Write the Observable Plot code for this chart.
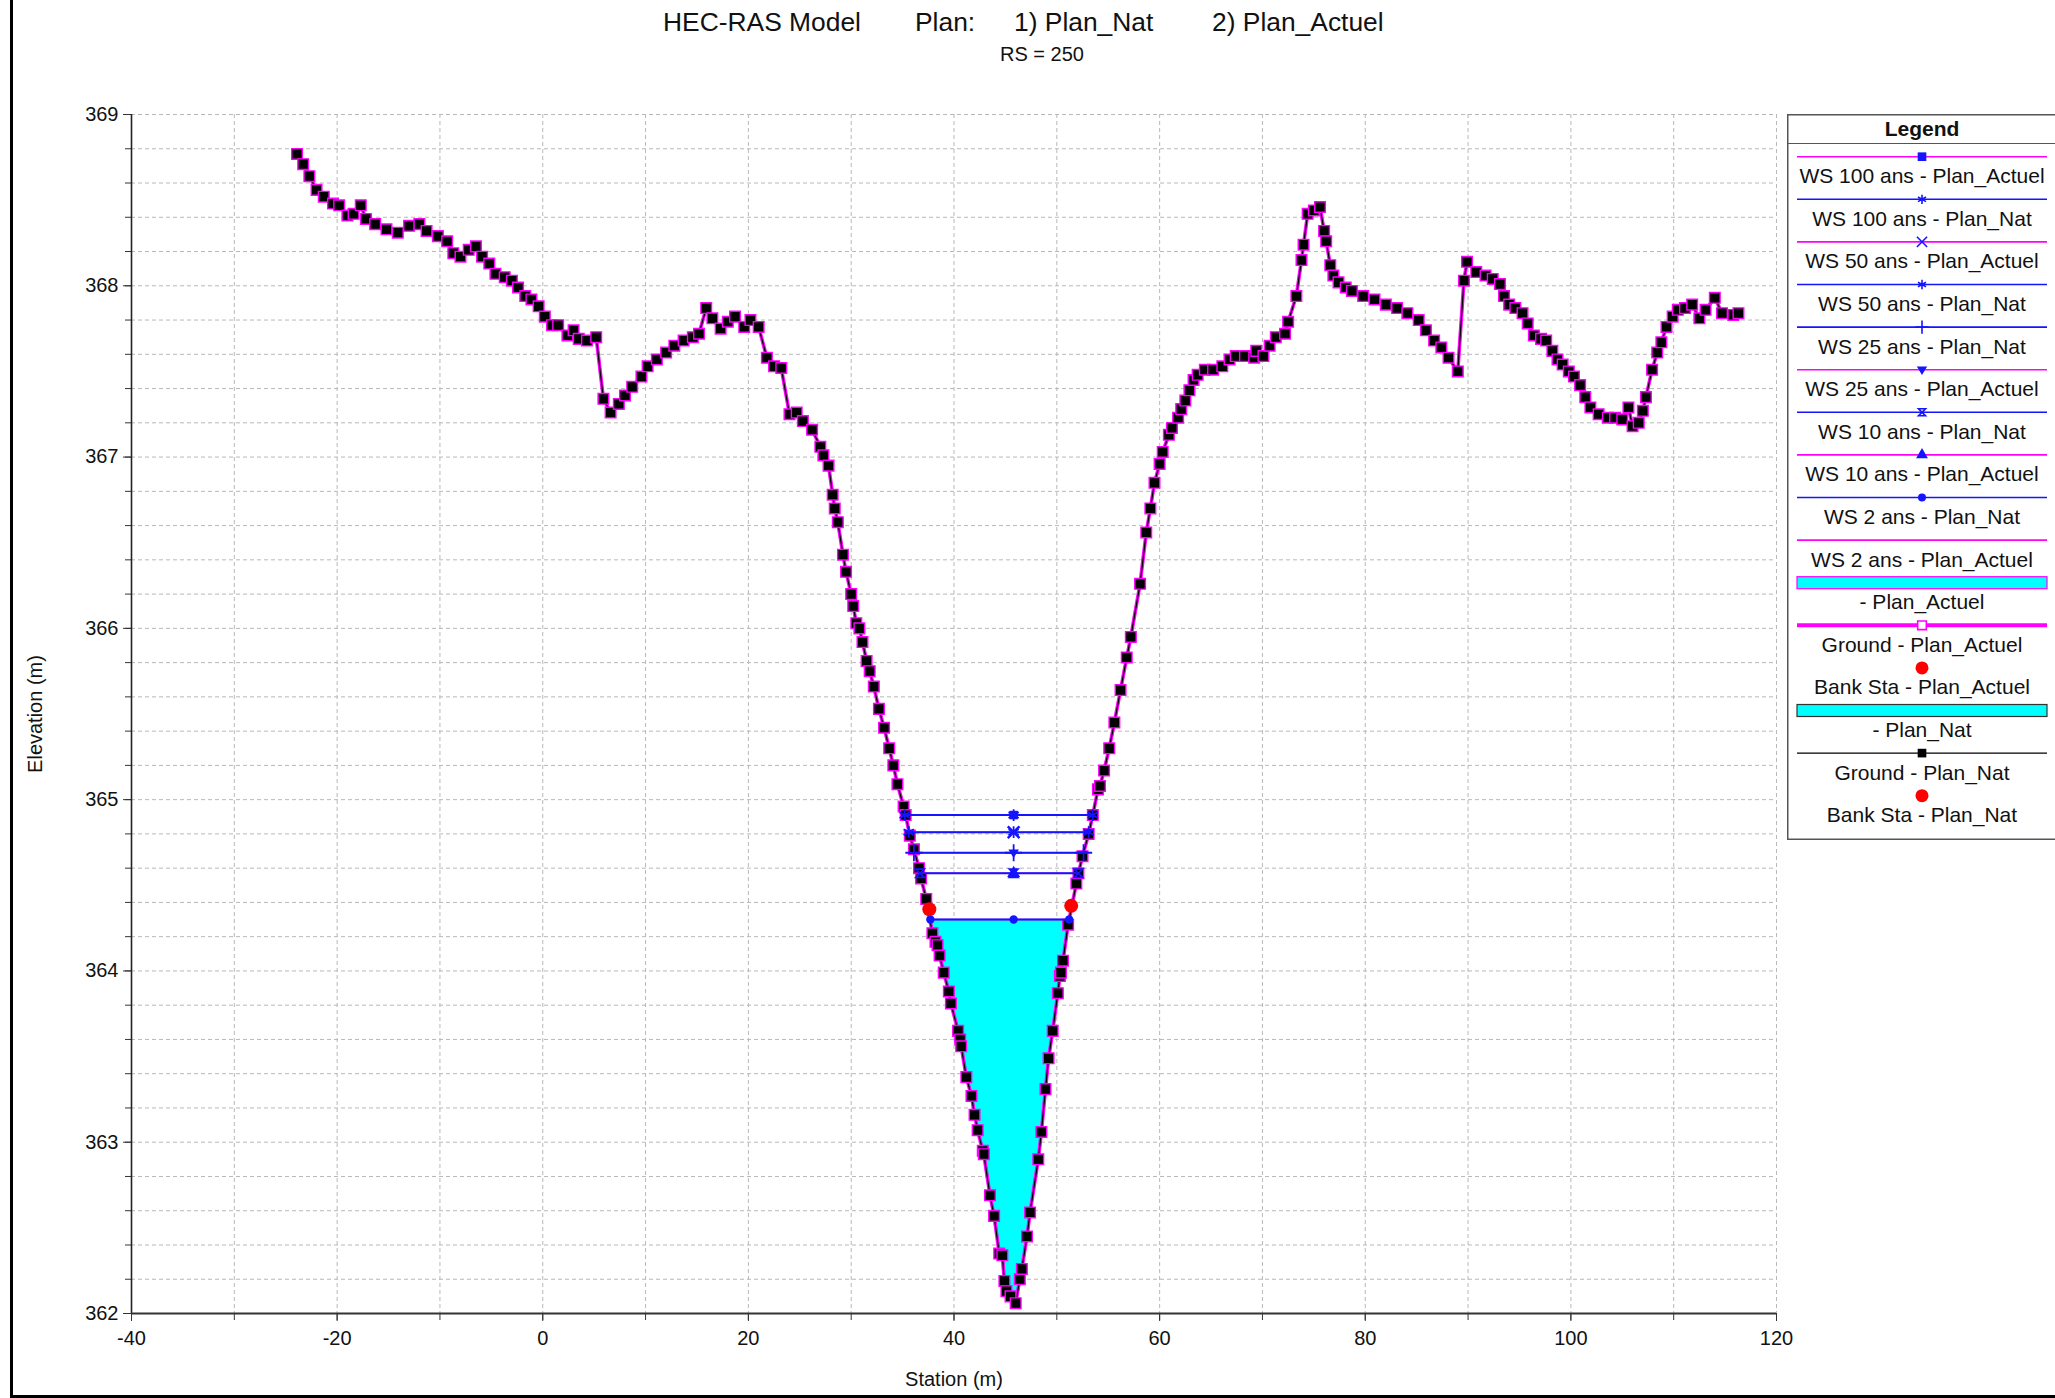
<!DOCTYPE html>
<html>
<head>
<meta charset="utf-8">
<script src="https://cdn.jsdelivr.net/npm/d3@7"></script>
<script src="https://cdn.jsdelivr.net/npm/@observablehq/plot@0.6"></script>
<style>
  html, body { margin: 0; padding: 0; background: #fff; }
  #page { position: relative; width: 2055px; height: 1398px; overflow: hidden;
          font-family: "Liberation Sans", Arial, sans-serif; color: #111; }
  #titles { position: relative; height: 70px; }
  .t { position: absolute; top: 0; height: 44px; line-height: 44px; font-size: 26.4px; white-space: nowrap; }
  #subtitle { position: absolute; left: 942px; width: 200px; top: 44px; line-height: 20px;
              font-size: 20px; text-align: center; }
  #chart { position: relative; }
  #legend { position: absolute; left: 1787px; top: 114px; }
  #frame { position: absolute; left: 10px; top: -10px; width: 2100px; height: 1408px;
           box-sizing: border-box; border-left: 3px solid #000; border-bottom: 3px solid #000;
           pointer-events: none; }
</style>
</head>
<body>
<div id="page">
  <div id="titles">
    <span class="t" style="left:663px">HEC-RAS Model</span>
    <span class="t" style="left:915px">Plan:</span>
    <span class="t" style="left:1014px">1) Plan_Nat</span>
    <span class="t" style="left:1212px">2) Plan_Actuel</span>
    <div id="subtitle">RS = 250</div>
  </div>
  <div id="chart"></div>
  <div id="legend"></div>
  <div id="frame"></div>
</div>
<script>
// ---------------- data ----------------
const stations = [
  -23.9, -23.3, -22.7, -22.0, -21.3, -20.4, -19.8, -19.0, -18.4, -17.7,
  -17.2, -16.3, -15.2, -14.1, -13.0, -12.0, -11.3, -10.2, -9.3, -8.7,
  -8.0, -7.2, -6.5, -5.9, -5.2, -4.6, -3.7, -3.0, -2.4, -1.7,
  -1.1, -0.4, 0.2, 0.9, 1.5, 2.4, 3.0, 3.5, 4.3, 5.2,
  5.9, 6.6, 7.4, 8.0, 8.7, 9.6, 10.2, 11.1, 12.0, 12.8,
  13.7, 14.6, 15.2, 15.9, 16.5, 17.3, 18.0, 18.7, 19.6, 20.2,
  21.0, 21.8, 22.5, 23.2, 24.0, 24.7, 25.3, 26.2, 27.0, 27.3,
  27.8, 28.2, 28.4, 28.7, 29.2, 29.5, 30.0, 30.2, 30.5, 30.8,
  31.1, 31.5, 31.8, 32.2, 32.7, 33.2, 33.7, 34.1, 34.5, 35.1,
  35.3, 35.7, 36.1, 36.6, 36.8, 37.3, 37.9, 38.2, 38.4, 38.6,
  39.0, 39.5, 39.7, 40.4, 40.6, 40.7, 41.2, 41.7, 42.0, 42.3,
  42.8, 42.9, 43.5, 43.9, 44.4, 44.7, 44.9, 45.1, 45.5, 46.0,
  46.4, 46.6, 47.1, 47.4, 48.2, 48.5, 48.9, 49.2, 49.6, 50.1,
  50.3, 50.4, 50.6, 51.1, 51.9, 52.1, 52.5, 53.1, 53.5, 54.0,
  54.2, 54.6, 55.1, 55.6, 56.2, 56.8, 57.2, 58.1, 58.7, 59.1,
  59.5, 60.0, 60.3, 60.9, 61.2, 61.8, 62.1, 62.5, 62.9, 63.3,
  63.7, 64.4, 65.2, 66.1, 66.8, 67.4, 68.3, 69.2, 69.4, 70.1,
  70.7, 71.3, 72.2, 72.5, 73.3, 73.8, 74.0, 74.4, 75.0, 75.6,
  76.0, 76.2, 76.6, 76.9, 77.4, 78.1, 78.7, 79.8, 80.9, 82.0,
  83.1, 84.1, 85.2, 85.9, 86.7, 87.4, 88.1, 89.0, 89.6, 89.9,
  90.8, 91.7, 92.4, 93.1, 93.5, 94.0, 94.6, 95.3, 95.8, 96.4,
  97.1, 97.6, 98.2, 98.7, 99.2, 99.8, 100.3, 100.9, 101.4, 101.9,
  102.7, 103.6, 104.3, 105.0, 105.6, 106.0, 106.6, 107.0, 107.3, 107.9,
  108.4, 108.8, 109.3, 109.9, 110.4, 111.1, 111.8, 112.5, 113.1, 114.0,
  114.7, 115.8, 116.3
];
const elevations = [
  368.77, 368.71, 368.64, 368.56, 368.52, 368.48, 368.47, 368.41, 368.42, 368.47,
  368.39, 368.36, 368.33, 368.31, 368.35, 368.36, 368.32, 368.29, 368.26, 368.19,
  368.17, 368.21, 368.23, 368.17, 368.13, 368.07, 368.05, 368.03, 367.99, 367.94,
  367.92, 367.88, 367.82, 367.77, 367.77, 367.71, 367.74, 367.69, 367.68, 367.70,
  367.34, 367.26, 367.31, 367.36, 367.41, 367.47, 367.53, 367.57, 367.61, 367.65,
  367.68, 367.70, 367.72, 367.87, 367.81, 367.75, 367.79, 367.82, 367.76, 367.80,
  367.76, 367.58, 367.53, 367.52, 367.25, 367.26, 367.21, 367.16, 367.06, 367.01,
  366.95, 366.78, 366.70, 366.62, 366.43, 366.33, 366.20, 366.13, 366.03, 366.00,
  365.92, 365.81, 365.75, 365.66, 365.53, 365.42, 365.30, 365.20, 365.09, 364.96,
  364.91, 364.79, 364.71, 364.60, 364.54, 364.42, 364.22, 364.17, 364.15, 364.09,
  363.99, 363.88, 363.81, 363.65, 363.60, 363.56, 363.38, 363.27, 363.16, 363.07,
  362.95, 362.93, 362.69, 362.57, 362.35, 362.34, 362.19, 362.13, 362.10, 362.06,
  362.20, 362.26, 362.45, 362.59, 362.90, 363.06, 363.31, 363.49, 363.65, 363.87,
  363.97, 363.99, 364.06, 364.27, 364.51, 364.57, 364.67, 364.80, 364.91, 365.06,
  365.08, 365.17, 365.30, 365.45, 365.64, 365.83, 365.95, 366.26, 366.56, 366.70,
  366.85, 366.96, 367.03, 367.13, 367.17, 367.23, 367.28, 367.33, 367.39, 367.45,
  367.48, 367.51, 367.51, 367.53, 367.57, 367.59, 367.59, 367.58, 367.62, 367.59,
  367.65, 367.70, 367.72, 367.79, 367.94, 368.15, 368.24, 368.42, 368.44, 368.46,
  368.32, 368.26, 368.12, 368.06, 368.02, 367.99, 367.97, 367.94, 367.92, 367.89,
  367.87, 367.84, 367.80, 367.74, 367.68, 367.64, 367.58, 367.50, 368.03, 368.14,
  368.08, 368.06, 368.04, 368.01, 367.94, 367.89, 367.87, 367.84, 367.78, 367.71,
  367.69, 367.68, 367.62, 367.57, 367.54, 367.50, 367.47, 367.42, 367.35, 367.29,
  367.25, 367.23, 367.23, 367.22, 367.29, 367.18, 367.20, 367.27, 367.35, 367.51,
  367.61, 367.67, 367.76, 367.82, 367.86, 367.87, 367.89, 367.81, 367.86, 367.93,
  367.84, 367.83, 367.84
];

// water surfaces (identical for both plans)
const wsEvents = ["WS 100 ans", "WS 50 ans", "WS 25 ans", "WS 10 ans", "WS 2 ans"];
const wsElev   = [364.91, 364.81, 364.69, 364.57, 364.30];
const wsLeft   = [35.2, 35.6, 36.1, 36.7, 37.7];
const wsRight  = [53.5, 53.1, 52.6, 52.1, 51.2];
const wsCenter = [45.8, 45.8, 45.8, 45.8, 45.8];

// bank stations
const bankStations = [37.6, 51.4];
const bankElev     = [364.36, 364.38];

// axis ticks
const xTickLabels = [-40, -20, 0, 20, 40, 60, 80, 100, 120];
const xMinorTicks = [-40, -30, -20, -10, 0, 10, 20, 30, 40, 50, 60, 70, 80, 90, 100, 110, 120];
const yTickLabels = [362, 363, 364, 365, 366, 367, 368, 369];

// legend labels
const legendLabels = [
  "WS 100 ans - Plan_Actuel", "WS 100 ans - Plan_Nat",
  "WS 50 ans - Plan_Actuel", "WS 50 ans - Plan_Nat",
  "WS 25 ans - Plan_Nat", "WS 25 ans - Plan_Actuel",
  "WS 10 ans - Plan_Nat", "WS 10 ans - Plan_Actuel",
  "WS 2 ans - Plan_Nat", "WS 2 ans - Plan_Actuel",
  "- Plan_Actuel", "Ground - Plan_Actuel", "Bank Sta - Plan_Actuel",
  "- Plan_Nat", "Ground - Plan_Nat", "Bank Sta - Plan_Nat"
];

// ---------------- styles ----------------
const MAGENTA = "#ff00ff", BLUE = "#1414ff", CYAN = "#00ffff", RED = "#ff0000";
const FONT = "'Liberation Sans', Arial, sans-serif";
const fmt = d => String(d);

const symbolDownTriangle = { draw(ctx, size) {
  const s = Math.sqrt(size) * 0.62;
  ctx.moveTo(-s, -s * 0.6); ctx.lineTo(s, -s * 0.6); ctx.lineTo(0, s); ctx.closePath();
}};
const symbolHourglass = { draw(ctx, size) {
  const s = Math.sqrt(size) * 0.42;
  ctx.moveTo(-s, -s); ctx.lineTo(s, -s); ctx.lineTo(-s, s); ctx.lineTo(s, s); ctx.closePath();
}};

// marker style per event: Nat (ends+center) and Actuel (center)
const markerStyle = {
  "WS 100 ans": { nat: { sym: d3.symbolAsterisk, filled: false }, act: { sym: d3.symbolSquare, filled: true } },
  "WS 50 ans":  { nat: { sym: d3.symbolAsterisk, filled: false }, act: { sym: d3.symbolTimes, filled: false } },
  "WS 25 ans":  { nat: { sym: d3.symbolPlus, filled: false },     act: { sym: symbolDownTriangle, filled: true } },
  "WS 10 ans":  { nat: { sym: symbolHourglass, filled: false },   act: { sym: d3.symbolTriangle, filled: true } },
  "WS 2 ans":   { nat: { sym: d3.symbolCircle, filled: true },    act: null }
};

// ---------------- derived tables ----------------
const ground = stations.map((s, i) => ({ station: s, elev: elevations[i] }));
const ws = wsEvents.map((e, i) => ({ event: e, elev: wsElev[i], left: wsLeft[i], right: wsRight[i], center: wsCenter[i] }));
const ws2 = ws.find(d => d.event === "WS 2 ans");
const water = [
  { station: ws2.left, elev: ws2.elev },
  ...ground.filter(d => d.station > ws2.left && d.station < ws2.right),
  { station: ws2.right, elev: ws2.elev }
];
const banks = bankStations.map((s, i) => ({ station: s, elev: bankElev[i] }));
const yGrid = d3.range(1, 36).map(i => +(362 + i * 0.2).toFixed(1));
const yMinorTicks = d3.range(0, 36).map(i => +(362 + i * 0.2).toFixed(1));
const xGrid = xMinorTicks.filter(v => v > -40);

const markerMarks = [];
for (const w of ws) {
  const st = markerStyle[w.event];
  const pts = [w.left, w.center, w.right].map(x => ({ station: x, elev: w.elev }));
  const n = st.nat;
  markerMarks.push(Plot.dot(pts, {
    x: "station", y: "elev", symbol: n.sym, r: n.filled ? 4.2 : 5.6,
    fill: n.filled ? BLUE : "none", stroke: n.filled ? "none" : BLUE, strokeWidth: 1.8
  }));
  if (st.act) {
    const a = st.act;
    markerMarks.push(Plot.dot([{ station: w.center, elev: w.elev }], {
      x: "station", y: "elev", symbol: a.sym, r: a.filled ? 4.8 : 5.4,
      fill: a.filled ? BLUE : "none", stroke: a.filled ? "none" : BLUE, strokeWidth: 2.4
    }));
  }
}

const gridStyle = { stroke: "#b8b8b8", strokeOpacity: 1, strokeWidth: 1, strokeDasharray: "4,3" };

const chart = Plot.plot({
  width: 1786,
  height: 1328,
  marginLeft: 131,
  marginRight: 10,
  marginTop: 44,
  marginBottom: 85,
  x: { domain: [-40, 120], label: null },
  y: { domain: [362, 369], label: null },
  style: { fontFamily: FONT, fontSize: "20px", color: "#111", background: "transparent", overflow: "visible" },
  marks: [
    Plot.ruleX(xGrid, gridStyle),
    Plot.ruleY(yGrid, gridStyle),
    // water (2 ans) fill
    Plot.areaY(water, { x: "station", y1: "elev", y2: () => ws2.elev, fill: CYAN, fillOpacity: 1 }),
    // ground
    Plot.line(ground, { x: "station", y: "elev", stroke: MAGENTA, strokeWidth: 3.6 }),
    Plot.line(ground, { x: "station", y: "elev", stroke: "#000", strokeWidth: 1.2 }),
    Plot.dot(ground, { x: "station", y: "elev", symbol: d3.symbolSquare, r: 6, fill: "#000", stroke: MAGENTA, strokeWidth: 1.4 }),
    // water surfaces: Plan_Actuel (magenta) under Plan_Nat (blue)
    Plot.ruleY(ws, { y: "elev", x1: "left", x2: "right", stroke: MAGENTA, strokeWidth: 1.4 }),
    Plot.ruleY(ws, { y: "elev", x1: "left", x2: "right", stroke: BLUE, strokeWidth: 2 }),
    ...markerMarks,
    // bank stations
    Plot.dot(banks, { x: "station", y: "elev", r: 7, fill: RED, stroke: "none" }),
    // axes
    Plot.axisX(xMinorTicks, { tickSize: 7, tickFormat: () => "", label: null, stroke: "#333" }),
    Plot.axisX(xTickLabels, { tickSize: 8, tickPadding: 9, tickFormat: fmt, label: null, stroke: "#333", fontSize: 20, fill: "#111" }),
    Plot.axisY(yMinorTicks, { tickSize: 6, tickFormat: () => "", label: null, stroke: "#333" }),
    Plot.axisY(yTickLabels, { tickSize: 8, tickPadding: 5, tickFormat: fmt, label: null, stroke: "#333", fontSize: 20, fill: "#111" }),
    Plot.ruleX([-40], { stroke: "#222", strokeWidth: 1.6 }),
    Plot.ruleY([362], { stroke: "#333", strokeWidth: 2.2 }),
    Plot.text(["Station (m)"], { frameAnchor: "bottom", dy: 66, text: d => d, fontSize: 20, fill: "#111",
                                 textAnchor: "middle", lineAnchor: "middle" }),
    Plot.text(["Elevation (m)"], { frameAnchor: "left", dx: -96, rotate: -90, text: d => d, fontSize: 20, fill: "#111",
                                   textAnchor: "middle", lineAnchor: "middle" })
  ]
});
document.getElementById("chart").appendChild(chart);

// ---------------- legend ----------------
const legendStyle = [
  { line: MAGENTA, lw: 1.6, marker: { sym: d3.symbolSquare, fill: BLUE, size: 75 } },
  { line: BLUE, lw: 1.6, marker: { sym: d3.symbolAsterisk, stroke: BLUE, size: 60 } },
  { line: MAGENTA, lw: 1.6, marker: { sym: d3.symbolTimes, stroke: BLUE, size: 70 } },
  { line: BLUE, lw: 1.6, marker: { sym: d3.symbolAsterisk, stroke: BLUE, size: 60 } },
  { line: BLUE, lw: 1.6, marker: { sym: d3.symbolPlus, stroke: BLUE, size: 60 } },
  { line: MAGENTA, lw: 1.6, marker: { sym: symbolDownTriangle, fill: BLUE, size: 70 } },
  { line: BLUE, lw: 1.6, marker: { sym: symbolHourglass, stroke: BLUE, size: 70 } },
  { line: MAGENTA, lw: 1.6, marker: { sym: d3.symbolTriangle, fill: BLUE, size: 60 } },
  { line: BLUE, lw: 1.6, marker: { sym: d3.symbolCircle, fill: BLUE, size: 50 } },
  { line: MAGENTA, lw: 1.6, marker: null },
  { box: CYAN, boxStroke: MAGENTA },
  { line: MAGENTA, lw: 4, marker: { sym: d3.symbolSquare, fill: "white", stroke: MAGENTA, size: 75 } },
  { dot: RED },
  { box: CYAN, boxStroke: "#333" },
  { line: "#000", lw: 1.4, marker: { sym: d3.symbolSquare, fill: "#000", size: 75 } },
  { dot: RED }
];

const LW = 300, LH = 726, step = 42.6, firstSample = 42.7, cx = 135;
const lsvg = d3.select("#legend").append("svg")
  .attr("width", LW).attr("height", LH)
  .style("font-family", FONT).style("display", "block");
lsvg.append("rect").attr("x", 0.75).attr("y", 0.75).attr("width", LW + 10).attr("height", LH - 1.5)
  .attr("fill", "white").attr("stroke", "#555").attr("stroke-width", 1.5);
lsvg.append("text").attr("x", cx).attr("y", 14).attr("text-anchor", "middle")
  .attr("dominant-baseline", "central").attr("font-size", 21).attr("font-weight", "bold")
  .attr("fill", "#111").text("Legend");
lsvg.append("line").attr("x1", 0).attr("x2", LW).attr("y1", 29.5).attr("y2", 29.5)
  .attr("stroke", "#555").attr("stroke-width", 1.2);

legendLabels.forEach((label, i) => {
  const st = legendStyle[i];
  const ys = firstSample + step * i;
  const g = lsvg.append("g");
  if (st.line) {
    g.append("line").attr("x1", 10).attr("x2", 260).attr("y1", ys).attr("y2", ys)
      .attr("stroke", st.line).attr("stroke-width", st.lw);
  }
  if (st.marker) {
    g.append("path").attr("transform", `translate(${cx},${ys})`)
      .attr("d", d3.symbol(st.marker.sym, st.marker.size)())
      .attr("fill", st.marker.fill || "none")
      .attr("stroke", st.marker.stroke || "none").attr("stroke-width", 1.6);
  }
  if (st.box) {
    g.append("rect").attr("x", 10).attr("y", ys - 6).attr("width", 250).attr("height", 12)
      .attr("fill", st.box).attr("stroke", st.boxStroke).attr("stroke-width", 1.2);
  }
  if (st.dot) {
    g.append("circle").attr("cx", cx).attr("cy", ys).attr("r", 6.5).attr("fill", st.dot);
  }
  g.append("text").attr("x", cx).attr("y", ys + 19).attr("text-anchor", "middle")
    .attr("dominant-baseline", "central").attr("font-size", 21).attr("fill", "#111").text(label);
});
</script>
</body>
</html>
